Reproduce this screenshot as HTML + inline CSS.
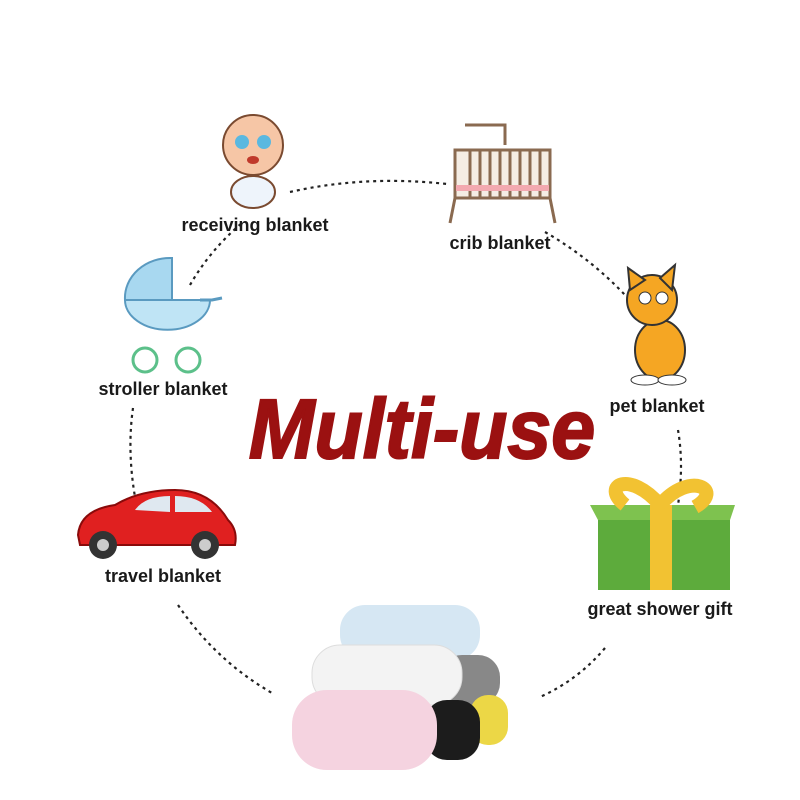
<!DOCTYPE html>
<html><head><meta charset="utf-8"><style>
html,body{margin:0;padding:0;background:#fff;width:800px;height:800px;overflow:hidden}
svg{display:block}
.lbl{font-family:"Liberation Sans",sans-serif;font-size:18px;font-weight:bold;fill:#1a1a1a}
</style></head><body>
<svg width="800" height="800" viewBox="0 0 800 800">
<g fill="none" stroke="#222" stroke-width="2.2" stroke-dasharray="3 4">
<path d="M290 192 Q365 175 447 184"/>
<path d="M545 232 Q590 258 625 295"/>
<path d="M678 430 Q684 465 678 505"/>
<path d="M605 648 Q578 680 540 697"/>
<path d="M178 605 Q215 660 272 693"/>
<path d="M133 408 Q127 450 135 497"/>
<path d="M190 285 Q210 250 243 222"/>
</g>
<text x="422" y="458" text-anchor="middle" font-family="Liberation Sans,sans-serif" font-weight="bold" font-style="italic" font-size="84" fill="#9b1111" stroke="#9b1111" stroke-width="2" transform="translate(422 0) scale(0.94 1) translate(-422 0)">Multi-use</text>
<text class="lbl" x="255" y="231" text-anchor="middle">receiving blanket</text>
<text class="lbl" x="500" y="249" text-anchor="middle">crib blanket</text>
<text class="lbl" x="657" y="412" text-anchor="middle">pet blanket</text>
<text class="lbl" x="163" y="395" text-anchor="middle">stroller blanket</text>
<text class="lbl" x="163" y="582" text-anchor="middle">travel blanket</text>
<text class="lbl" x="660" y="615" text-anchor="middle">great shower gift</text>
<g>
<circle cx="253" cy="145" r="30" fill="#f6c6a6" stroke="#7a4a30" stroke-width="2"/>
<ellipse cx="253" cy="192" rx="22" ry="16" fill="#eef4fb" stroke="#7a4a30" stroke-width="2"/>
<circle cx="242" cy="142" r="7" fill="#5ab8e0"/><circle cx="264" cy="142" r="7" fill="#5ab8e0"/>
<ellipse cx="253" cy="160" rx="6" ry="4" fill="#c0392b"/>
</g>
<g stroke="#8a6a50" stroke-width="3" fill="none">
<rect x="455" y="150" width="95" height="48" fill="#f5ede4"/>
<path d="M470 150v48M480 150v48M490 150v48M500 150v48M510 150v48M520 150v48M530 150v48M540 150v48"/>
<path d="M455 198l-5 25M550 198l5 25M465 125h40v20"/>
</g>
<rect x="456" y="185" width="93" height="6" fill="#f3a9b0"/>
<g>
<ellipse cx="660" cy="350" rx="25" ry="30" fill="#f5a623" stroke="#333" stroke-width="2"/>
<circle cx="652" cy="300" r="25" fill="#f5a623" stroke="#333" stroke-width="2"/>
<polygon points="630,290 628,268 645,280" fill="#f5a623" stroke="#333" stroke-width="2"/>
<polygon points="660,278 675,265 672,290" fill="#f5a623" stroke="#333" stroke-width="2"/>
<circle cx="645" cy="298" r="6" fill="#fff" stroke="#333"/><circle cx="662" cy="298" r="6" fill="#fff" stroke="#333"/>
<ellipse cx="645" cy="380" rx="14" ry="5" fill="#fff" stroke="#333"/><ellipse cx="672" cy="380" rx="14" ry="5" fill="#fff" stroke="#333"/>
</g>
<g>
<rect x="598" y="520" width="132" height="70" fill="#5dab3c"/>
<polygon points="598,520 730,520 735,505 590,505" fill="#7ec24f"/>
<rect x="650" y="505" width="22" height="85" fill="#f2c232"/>
<path d="M660 505 C630 470 600 485 625 505 M660 505 C690 470 725 490 695 507" stroke="#f2c232" stroke-width="14" fill="none"/>
</g>
<g>
<path d="M125 300 A45 40 0 0 1 172 258 L172 300 Z" fill="#a8d8f0" stroke="#5a9ac0" stroke-width="2"/>
<path d="M125 300 h85 a40 28 0 0 1 -85 0z" fill="#bfe4f5" stroke="#5a9ac0" stroke-width="2"/>
<path d="M200 300 L212 300 L222 298" stroke="#5a9ac0" stroke-width="3" fill="none"/>
<circle cx="145" cy="360" r="12" fill="none" stroke="#5cc08a" stroke-width="3"/>
<circle cx="188" cy="360" r="12" fill="none" stroke="#5cc08a" stroke-width="3"/>
</g>
<g>
<path d="M78 535 Q80 510 115 505 Q140 490 175 490 Q210 490 228 520 Q238 530 235 545 L80 545Z" fill="#e02020" stroke="#8a0a0a" stroke-width="2"/>
<path d="M135 510 Q145 496 170 496 L170 512Z M175 496 Q200 496 212 512 L175 512Z" fill="#dfe8f0"/>
<circle cx="103" cy="545" r="14" fill="#333"/><circle cx="103" cy="545" r="6" fill="#ccc"/>
<circle cx="205" cy="545" r="14" fill="#333"/><circle cx="205" cy="545" r="6" fill="#ccc"/>
</g>
<g>
<rect x="340" y="605" width="140" height="55" rx="25" fill="#d6e7f3"/>
<rect x="440" y="655" width="60" height="50" rx="22" fill="#888"/>
<rect x="312" y="645" width="150" height="60" rx="28" fill="#f3f3f3" stroke="#ddd"/>
<rect x="470" y="695" width="38" height="50" rx="18" fill="#ecd746"/>
<rect x="425" y="700" width="55" height="60" rx="22" fill="#1c1c1c"/>
<rect x="292" y="690" width="145" height="80" rx="35" fill="#f5d3e0"/>
</g>
</svg>
</body></html>
